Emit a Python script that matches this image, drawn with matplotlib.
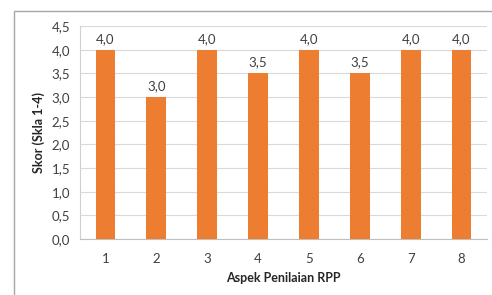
import matplotlib
matplotlib.use("Agg")
import matplotlib.pyplot as plt
from matplotlib.patches import Rectangle

categories = ["1", "2", "3", "4", "5", "6", "7", "8"]
values = [4.0, 3.0, 4.0, 3.5, 4.0, 3.5, 4.0, 4.0]
yticks = [0.0, 0.5, 1.0, 1.5, 2.0, 2.5, 3.0, 3.5, 4.0, 4.5]

plt.rcParams['font.family'] = ['Lato', 'DejaVu Sans']

fig = plt.figure(figsize=(4.92, 2.95), dpi=100)
fig.patch.set_facecolor('white')
fig.patches.append(Rectangle((14/492, -0.1), 1.0, (295-11)/295 + 0.1,
                             transform=fig.transFigure, fill=False,
                             edgecolor='#a6a6a6', linewidth=1.0))
ax = fig.add_axes([80/492, 56/295, (487-80)/492, (269-56)/295])

x = list(range(1, len(categories) + 1))
ax.bar(x, values, width=0.39, color='#ED7D31', zorder=3)
for xi, v in zip(x, values):
    ax.annotate(f"{v:.1f}".replace('.', ','), (xi, v), xytext=(0, 3.5),
                textcoords='offset points', ha='center', va='bottom',
                fontsize=9.5, color='#404040')

ax.set_xlim(0.5, 8.5)
ax.set_ylim(0, 4.5)
ax.set_yticks(yticks)
ax.set_yticklabels([f"{t:.1f}".replace('.', ',') for t in yticks])
ax.set_xticks(x)
ax.set_xticklabels(categories)
ax.grid(axis='y', color='#d9d9d9', linewidth=0.8, zorder=0)
for s in ['top', 'right']:
    ax.spines[s].set_visible(False)
ax.spines['left'].set_color('#d0d0d0')
ax.spines['bottom'].set_color('#bfbfbf')
ax.tick_params(axis='both', length=0, labelsize=9.5, colors='#404040')
ax.tick_params(axis='x', pad=10)
ax.tick_params(axis='y', pad=7)
ax.set_xlabel("Aspek Penilaian RPP", fontsize=9, fontweight='bold', color='#262626', labelpad=5)
ax.set_ylabel("Skor (Skla 1-4)", fontsize=9, fontweight='bold', color='#262626', labelpad=5)

fig.savefig("out.png", dpi=100)
